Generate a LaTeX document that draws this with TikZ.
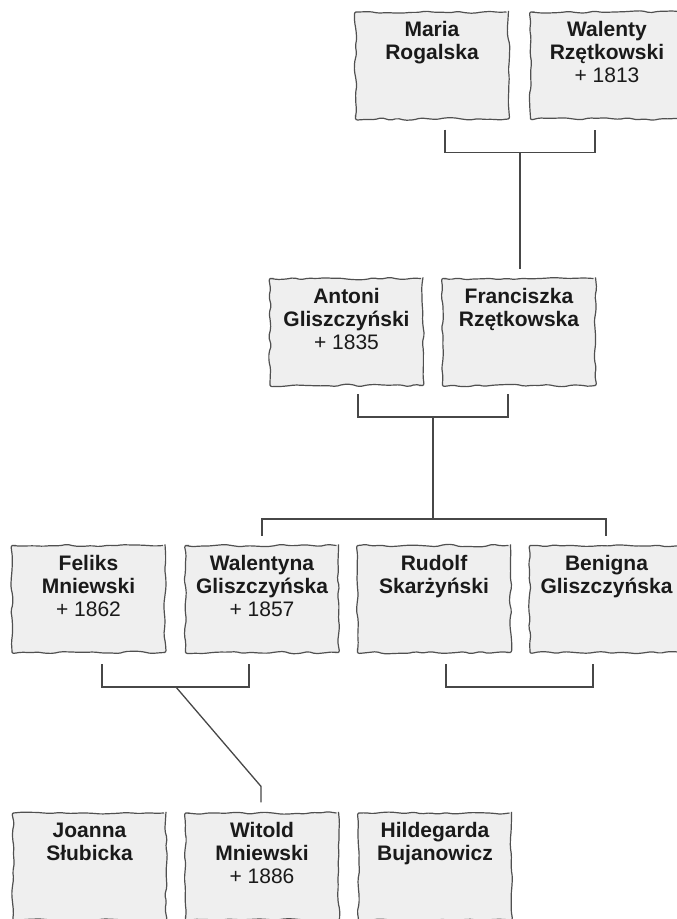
\documentclass[tikz,border=0pt]{standalone}
\usepackage{fontspec}
\setmainfont{Liberation Sans}
\usetikzlibrary{calc,decorations.pathmorphing}
\definecolor{paperedge}{HTML}{505050}
\definecolor{paperfill}{HTML}{EFEFEF}
\definecolor{textcol}{HTML}{1A1A1A}
\definecolor{linecol}{HTML}{474747}
\begin{document}
\begin{tikzpicture}[x=1pt,y=-1pt,
  paperbox/.style={draw=paperedge, fill=paperfill, line width=1.2pt,
    minimum width=153pt, minimum height=107pt, inner sep=0pt,
    decorate, decoration={random steps, segment length=8pt, amplitude=1.3pt},
    rounded corners=2pt},
  nametext/.style={anchor=north, inner sep=0pt, align=center, text=textcol,
    font=\bfseries\fontsize{21}{23}\selectfont},
  linkline/.style={draw=linecol, line width=1.3pt}]
\pgfmathsetseed{7}
\useasboundingbox (0,0) rectangle (677,919);
\clip (0,0) rectangle (677,919);

% row 1
\node[paperbox] (maria) at (432,65.5) {};
\node[nametext] (mariaT) at ([yshift=-10pt]maria.north) {Maria\\Rogalska};
\node[paperbox] (walenty) at (607,65.5) {};
\node[nametext] (walentyT) at ([yshift=-10pt]walenty.north) {Walenty\\Rzętkowski\\{\mdseries + 1813}};

% row 2
\node[paperbox] (antoni) at (346.5,332) {};
\node[nametext] (antoniT) at ([yshift=-10pt]antoni.north) {Antoni\\Gliszczyński\\{\mdseries + 1835}};
\node[paperbox] (franc) at (519,332) {};
\node[nametext] (francT) at ([yshift=-10pt]franc.north) {Franciszka\\Rzętkowska};

% row 3
\node[paperbox] (feliks) at (88.5,599) {};
\node[nametext] (feliksT) at ([yshift=-10pt]feliks.north) {Feliks\\Mniewski\\{\mdseries + 1862}};
\node[paperbox] (walentyna) at (262,599) {};
\node[nametext] (walentynaT) at ([yshift=-10pt]walentyna.north) {Walentyna\\Gliszczyńska\\{\mdseries + 1857}};
\node[paperbox] (rudolf) at (434,599) {};
\node[nametext] (rudolfT) at ([yshift=-10pt]rudolf.north) {Rudolf\\Skarżyński};
\node[paperbox] (benigna) at (606.5,599) {};
\node[nametext] (benignaT) at ([yshift=-10pt]benigna.north) {Benigna\\Gliszczyńska};

% row 4
\node[paperbox] (joanna) at (89.5,866.5) {};
\node[nametext] (joannaT) at ([yshift=-10pt]joanna.north) {Joanna\\Słubicka};
\node[paperbox] (witold) at (262,866.5) {};
\node[nametext] (witoldT) at ([yshift=-10pt]witold.north) {Witold\\Mniewski\\{\mdseries + 1886}};
\node[paperbox] (hildegarda) at (435,866.5) {};
\node[nametext] (hildegardaT) at ([yshift=-10pt]hildegarda.north) {Hildegarda\\Bujanowicz};

% connectors row 1 -> row 2
\coordinate (m1) at ($(maria.south)+(13,10)$);
\coordinate (w1) at ($(walenty.south)+(-12,10)$);
\draw[linkline] (m1) -- ++(0,23) -| (w1);
\coordinate (j1) at ($(m1)+(75,23)$);
\coordinate (fr1) at ($(franc.north)+(1,-9)$);
\draw[linkline] (j1) -- (j1 |- fr1);

% row 2 -> row 3
\coordinate (a1) at ($(antoni.south)+(11.5,8)$);
\coordinate (f1) at ($(franc.south)+(-11,8)$);
\draw[linkline] (a1) -- ++(0,23) -| (f1);
\coordinate (j2) at ($(a1)+(75,23)$);
\coordinate (j2b) at ($(j2)+(0,102)$);
\draw[linkline] (j2) -- (j2b);
\coordinate (wa1) at ($(walentyna.north)+(0,-9)$);
\coordinate (b1) at ($(benigna.north)+(-0.5,-9)$);
\draw[linkline] (wa1) |- (j2b) -| (b1);

% row 3 -> row 4
\coordinate (fe1) at ($(feliks.south)+(13.5,11)$);
\coordinate (wa2) at ($(walentyna.south)+(-13,11)$);
\draw[linkline] (fe1) -- ++(0,23) -| (wa2);
\coordinate (j3) at ($(fe1)+(74,23)$);
\coordinate (wi1) at ($(witold.north)+(-1,-10)$);
\draw[linkline] (j3) -- ($(wi1)+(0,-16)$) -- (wi1);

\coordinate (r1) at ($(rudolf.south)+(12,11)$);
\coordinate (b2) at ($(benigna.south)+(-13.5,11)$);
\draw[linkline] (r1) -- ++(0,23) -| (b2);
\end{tikzpicture}
\end{document}
